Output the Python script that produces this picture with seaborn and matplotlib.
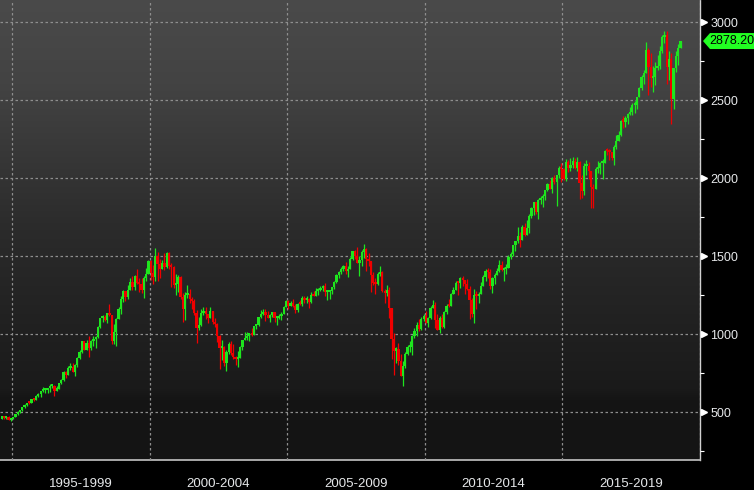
import numpy as np
import pandas as pd
import matplotlib
matplotlib.use("Agg")
import matplotlib.pyplot as plt
import seaborn as sns
from matplotlib import transforms
from matplotlib.patches import Polygon

# ---------------- data (monthly candles, Aug 1994 .. Apr 2019) ----------------
start_month = "1994-08-01"
first_open = 458.26

close = [
    475.49, 462.69, 472.35, 453.69, 459.27,
    470.42, 487.39, 500.71, 514.71, 533.40, 544.75, 562.06, 561.88, 584.41, 581.50, 605.37, 615.93,
    636.02, 640.43, 645.50, 654.17, 669.12, 670.63, 639.95, 651.99, 687.33, 705.27, 757.02, 740.74,
    786.16, 790.82, 757.12, 801.34, 848.28, 885.14, 954.31, 899.47, 947.28, 914.62, 955.40, 970.43,
    980.28, 1049.34, 1101.75, 1111.75, 1090.82, 1133.84, 1120.67, 957.28, 1017.01, 1098.67, 1163.63, 1229.23,
    1279.64, 1238.33, 1286.37, 1335.18, 1301.84, 1372.71, 1328.72, 1320.41, 1282.71, 1362.93, 1388.91, 1469.25,
    1394.46, 1366.42, 1498.58, 1452.43, 1420.60, 1454.60, 1430.83, 1517.68, 1436.51, 1429.40, 1314.95, 1320.28,
    1366.01, 1239.94, 1160.33, 1249.46, 1255.82, 1224.42, 1211.23, 1133.58, 1040.94, 1059.78, 1139.45, 1148.08,
    1130.20, 1106.73, 1147.39, 1076.92, 1067.14, 989.82, 911.62, 916.07, 815.28, 885.76, 936.31, 879.82,
    855.70, 841.15, 848.18, 916.92, 963.59, 974.50, 990.31, 1008.01, 995.97, 1050.71, 1058.20, 1111.92,
    1131.13, 1144.94, 1126.21, 1107.30, 1120.68, 1140.84, 1101.72, 1104.24, 1114.58, 1130.20, 1173.82, 1211.92,
    1181.27, 1203.60, 1180.59, 1156.85, 1191.50, 1191.33, 1234.18, 1220.33, 1228.81, 1207.01, 1249.48, 1248.29,
    1280.08, 1280.66, 1294.87, 1310.61, 1270.09, 1270.20, 1276.66, 1303.82, 1335.85, 1377.94, 1400.63, 1418.30,
    1438.24, 1406.82, 1420.86, 1482.37, 1530.62, 1503.35, 1455.27, 1473.99, 1526.75, 1549.38, 1481.14, 1468.36,
    1378.55, 1330.63, 1322.70, 1385.59, 1400.38, 1280.00, 1267.38, 1282.83, 1166.36, 968.75, 896.24, 903.25,
    825.88, 735.09, 797.87, 872.81, 919.14, 919.32, 987.48, 1020.62, 1057.08, 1036.19, 1095.63, 1115.10,
    1073.87, 1104.49, 1169.43, 1186.69, 1089.41, 1030.71, 1101.60, 1049.33, 1141.20, 1183.26, 1180.55, 1257.64,
    1286.12, 1327.22, 1325.83, 1363.61, 1345.20, 1320.64, 1292.28, 1218.89, 1131.42, 1253.30, 1246.96, 1257.60,
    1312.41, 1365.68, 1408.47, 1397.91, 1310.33, 1362.16, 1379.32, 1406.58, 1440.67, 1412.16, 1416.18, 1426.19,
    1498.11, 1514.68, 1569.19, 1597.57, 1630.74, 1606.28, 1685.73, 1632.97, 1681.55, 1756.54, 1805.81, 1848.36,
    1782.59, 1859.45, 1872.34, 1883.95, 1923.57, 1960.23, 1930.67, 2003.37, 1972.29, 2018.05, 2067.56, 2058.90,
    1994.99, 2104.50, 2067.89, 2085.51, 2107.39, 2063.11, 2103.84, 1972.18, 1920.03, 2079.36, 2080.41, 2043.94,
    1940.24, 1932.23, 2059.74, 2065.30, 2096.95, 2098.86, 2173.60, 2170.95, 2168.27, 2126.15, 2198.81, 2238.83,
    2278.87, 2363.64, 2362.72, 2384.20, 2411.80, 2423.41, 2470.30, 2471.65, 2519.36, 2575.26, 2647.58, 2673.61,
    2823.81, 2713.83, 2640.87, 2648.05, 2705.27, 2718.37, 2816.29, 2901.52, 2913.98, 2711.74, 2760.17, 2506.85,
    2704.10, 2784.49, 2834.40, 2878.20,
]

high = [
    477, 476.6, 475, 474, 466,
    471, 489, 507, 515, 534, 552, 563, 565, 586, 589, 609, 622,
    637, 665, 656, 658, 680, 673, 673, 670, 690, 714, 762, 762,
    795, 818, 815, 807, 853, 898, 957, 960, 961, 986, 963, 987,
    992, 1052, 1106, 1124, 1122, 1139, 1191, 1122, 1067, 1102, 1173, 1245,
    1285, 1280, 1316, 1362, 1375, 1383, 1421, 1361, 1362, 1373, 1424, 1474,
    1478, 1444, 1553, 1527, 1481, 1474, 1518, 1525, 1530, 1454, 1438, 1389,
    1383, 1376, 1267, 1269, 1315, 1287, 1239, 1226, 1155, 1110, 1163, 1173,
    1176, 1131, 1173, 1148, 1107, 1070, 994, 966, 925, 901, 951, 955,
    935, 864, 896, 924, 965, 1015, 1015, 1011, 1040, 1054, 1064, 1112,
    1155, 1159, 1163, 1150, 1128, 1146, 1140, 1109, 1131, 1141, 1183, 1217,
    1218, 1212, 1229, 1192, 1199, 1219, 1246, 1246, 1243, 1233, 1270, 1276,
    1295, 1297, 1311, 1318, 1326, 1284, 1280, 1306, 1340, 1389, 1407, 1431,
    1441, 1461, 1438, 1498, 1535, 1540, 1556, 1504, 1539, 1576, 1552, 1523,
    1471, 1396, 1359, 1397, 1440, 1404, 1292, 1314, 1303, 1167, 1007, 919,
    943, 876, 832, 888, 930, 956, 996, 1039, 1080, 1101, 1111, 1130,
    1150, 1112, 1180, 1220, 1206, 1132, 1120, 1130, 1148, 1196, 1228, 1263,
    1303, 1344, 1333, 1366, 1371, 1346, 1356, 1307, 1230, 1292, 1277, 1270,
    1334, 1378, 1420, 1422, 1416, 1364, 1392, 1426, 1475, 1470, 1434, 1448,
    1509, 1530, 1570, 1598, 1687, 1654, 1698, 1710, 1730, 1768, 1814, 1849,
    1850, 1867, 1884, 1897, 1925, 1968, 1991, 2005, 2019, 2019, 2076, 2094,
    2064, 2120, 2118, 2126, 2135, 2130, 2133, 2113, 2021, 2094, 2116, 2105,
    2038, 1962, 2073, 2111, 2103, 2121, 2178, 2194, 2188, 2169, 2214, 2278,
    2301, 2372, 2401, 2399, 2418, 2454, 2484, 2491, 2520, 2582, 2658, 2695,
    2873, 2836, 2801, 2718, 2743, 2791, 2848, 2917, 2941, 2940, 2815, 2800,
    2708, 2813, 2860, 2880,
]

low = [
    457, 456, 455, 449, 445,
    457, 469, 485, 499, 511, 531, 541, 553, 559, 573, 579, 601,
    597, 633, 627, 624, 630, 658, 605, 638, 649, 684, 703, 722,
    737, 773, 756, 733, 793, 839, 882, 897, 897, 855, 902, 925,
    912, 976, 1039, 1076, 1084, 1074, 1115, 940, 939, 923, 1098, 1130,
    1210, 1211, 1228, 1283, 1281, 1284, 1324, 1268, 1264, 1233, 1342, 1386,
    1350, 1325, 1339, 1339, 1362, 1420, 1413, 1424, 1419, 1306, 1294, 1254,
    1274, 1228, 1081, 1091, 1232, 1203, 1165, 1124, 944, 1026, 1054, 1124,
    1101, 1074, 1106, 1063, 1048, 953, 776, 838, 800, 768, 873, 870,
    840, 806, 789, 847, 902, 962, 962, 960, 988, 995, 1031, 1053,
    1105, 1124, 1087, 1105, 1076, 1113, 1078, 1060, 1101, 1091, 1128, 1173,
    1163, 1180, 1176, 1137, 1146, 1188, 1183, 1201, 1201, 1169, 1202, 1246,
    1245, 1253, 1277, 1280, 1245, 1219, 1225, 1261, 1291, 1327, 1361, 1385,
    1403, 1389, 1364, 1416, 1476, 1484, 1454, 1371, 1439, 1489, 1406, 1435,
    1270, 1317, 1257, 1315, 1373, 1272, 1200, 1247, 1107, 840, 742, 818,
    805, 735, 667, 783, 866, 889, 869, 978, 992, 1020, 1029, 1086,
    1071, 1045, 1101, 1170, 1040, 1028, 1011, 1040, 1041, 1131, 1173, 1180,
    1257, 1290, 1249, 1295, 1311, 1258, 1282, 1101, 1114, 1075, 1159, 1203,
    1258, 1310, 1341, 1358, 1291, 1267, 1325, 1378, 1397, 1403, 1343, 1385,
    1426, 1485, 1502, 1536, 1582, 1560, 1605, 1627, 1633, 1646, 1746, 1767,
    1771, 1738, 1834, 1815, 1859, 1915, 1930, 1905, 1964, 1821, 2001, 1973,
    1988, 1981, 2040, 2049, 2068, 2056, 2044, 1867, 1872, 1893, 2019, 1993,
    1812, 1810, 1937, 2034, 2026, 1992, 2098, 2148, 2119, 2115, 2084, 2188,
    2245, 2271, 2322, 2329, 2344, 2405, 2407, 2418, 2446, 2520, 2566, 2605,
    2683, 2533, 2586, 2553, 2594, 2691, 2699, 2803, 2864, 2604, 2631, 2346,
    2443, 2682, 2722, 2848,
]

period_edges = [1995, 2000, 2005, 2010, 2015, 2020]
period_labels = ["1995-1999", "2000-2004", "2005-2009", "2010-2014", "2015-2019"]
y_ticks = [500, 1000, 1500, 2000, 2500, 3000]
y_minor = [250, 750, 1250, 1750, 2250, 2750]
last_price_text = "2878.20"

# ---------------- frame ----------------
dates = pd.date_range(start_month, periods=len(close), freq="MS")
df = pd.DataFrame({"date": dates, "close": close, "high": high, "low": low})
df["open"] = [first_open] + close[:-1]
df["x"] = df["date"].dt.year + (df["date"].dt.month - 0.5) / 12.0
df["up"] = df["close"] >= df["open"]
df["high"] = np.maximum(df["high"], np.maximum(df["open"], df["close"]))
df["low"] = np.minimum(df["low"], np.minimum(df["open"], df["close"]))

GREEN = "#1ee61e"
RED = "#f00000"
TXT = "#e6e8ea"

sns.set_theme(style="dark", rc={
    "figure.facecolor": "black",
    "axes.facecolor": "#2a2a2a",
    "axes.edgecolor": "#c8c8c8",
    "text.color": TXT,
    "xtick.color": "#a8a8a8",
    "ytick.color": "white",
})
plt.rcParams["font.family"] = ["Liberation Sans", "DejaVu Sans"]

W, H = 754, 490
fig = plt.figure(figsize=(W / 100, H / 100), dpi=100, facecolor="black")
ax_w, ax_h, ax_b = 700, 460, 30
ax = fig.add_axes([0, ax_b / H, ax_w / W, ax_h / H])

# background gradient (top lighter grey -> bottom near black)
rows = np.linspace(0, 460, 460)
lev = np.interp(rows, [0, 85, 230, 390, 400, 460], [74, 67, 43, 26, 21, 20]) / 255.0
grad = np.dstack([lev, lev, lev]).reshape(460, 1, 3)
ax.imshow(grad, extent=[0, 1, 0, 1], transform=ax.transAxes, aspect="auto",
          zorder=0, interpolation="bilinear")

# candles
colors = np.where(df["up"], GREEN, RED)
ax.vlines(df["x"], df["low"], df["high"], colors=colors, linewidth=0.9, zorder=3)
body_bottom = np.minimum(df["open"], df["close"])
body_h = np.maximum(np.abs(df["close"] - df["open"]), 13)
ax.bar(df["x"], body_h, bottom=body_bottom, width=0.082, color=colors,
       linewidth=0, zorder=4)

ax.set_xlim(1994.565, 2019.985)
ax.set_ylim(195, 3141)

# grid
ax.set_xticks(period_edges)
ax.set_xticks(np.arange(1995, 2020), minor=True)
ax.set_yticks(y_ticks)
ax.set_yticks(y_minor, minor=True)
ax.grid(True, which="major", color="#8e8e8e", linestyle=(0, (2, 2)), linewidth=0.9, zorder=1)
ax.grid(False, which="minor")
ax.set_axisbelow(False)
for gl in ax.get_xgridlines() + ax.get_ygridlines():
    gl.set_zorder(1)

# spines
for s in ["left", "top"]:
    ax.spines[s].set_visible(False)
ax.spines["bottom"].set_color("#c4c4c4")
ax.spines["bottom"].set_linewidth(1.2)
ax.spines["right"].set_color("#d0d0d0")
ax.spines["right"].set_linewidth(1.0)
ax.spines["right"].set_linestyle((0, (3, 1)))

# y axis on right
ax.yaxis.tick_right()
ax.tick_params(axis="y", which="major", length=0, pad=7.5, labelsize=9, labelcolor=TXT,
               right=True, left=False)
ax.tick_params(axis="y", which="minor", length=3, width=0.8, color="white",
               direction="out", right=True, left=False)
ax.set_yticklabels([str(v) for v in y_ticks])

# x axis ticks: long separators at period edges, short yearly minors
ax.tick_params(axis="x", which="major", length=22, width=1.0, color="#a0a0a0",
               direction="out", labelbottom=False)
ax.tick_params(axis="x", which="minor", length=2.5, width=0.8, color="white",
               direction="out")

tr_x = transforms.blended_transform_factory(ax.transData, ax.transAxes)
for a, b, lab in zip(period_edges[:-1], period_edges[1:], period_labels):
    ax.text((a + b) / 2, -24 / ax_h, lab, transform=tr_x, ha="center", va="center",
            fontsize=9.5, color=TXT, clip_on=False)

# white pointer markers at major y ticks
tr_y = transforms.blended_transform_factory(ax.transAxes, ax.transData)
ax.plot(np.full(len(y_ticks), 1 + 4 / ax_w), y_ticks, linestyle="none", marker=">",
        markersize=5, color="white", transform=tr_y, clip_on=False, zorder=6)

# last price label
last_val = df["close"].iloc[-1]
hh = 8 / (ax_h / (3141 - 195))
poly = Polygon([(1 + 3 / ax_w, last_val), (1 + 10 / ax_w, last_val + hh),
                (1 + 60 / ax_w, last_val + hh), (1 + 60 / ax_w, last_val - hh),
                (1 + 10 / ax_w, last_val - hh)], closed=True, transform=tr_y,
               facecolor="#22ff22", edgecolor="none", clip_on=False, zorder=7)
ax.add_patch(poly)
ax.text(1 + 9 / ax_w, last_val, last_price_text, transform=tr_y, ha="left", va="center",
        fontsize=9, color="black", clip_on=False, zorder=8)

fig.savefig("out.png", dpi=100, facecolor="black")
